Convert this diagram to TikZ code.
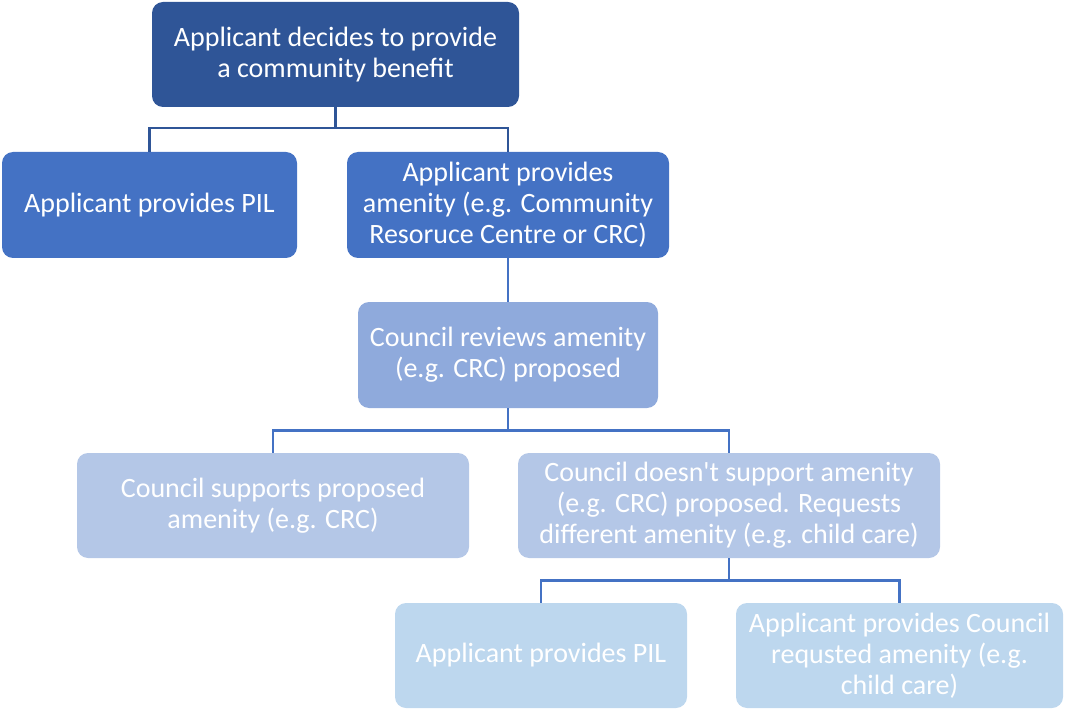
\documentclass[tikz,border=0pt]{standalone}
\usepackage{fontspec}
\setmainfont{Carlito}[Ligatures=TeXOff]
\definecolor{c1}{HTML}{2F5597}
\definecolor{c2}{HTML}{4472C4}
\definecolor{c3}{HTML}{8FAADC}
\definecolor{c4}{HTML}{B4C7E7}
\definecolor{c5}{HTML}{BDD7EE}
\definecolor{lnA}{HTML}{2F5597}
\definecolor{lnB}{HTML}{4472C4}
\tikzset{
  box/.style={rounded corners=11pt, inner sep=0pt, align=center, text=white,
    font=\fontsize{28}{31}\selectfont},
  conn/.style={line width=2.6pt},
}
\begin{document}
\begin{tikzpicture}[x=1pt,y=-1pt]
\useasboundingbox (0,0) rectangle (1065,711);
\node[box, fill=c1, minimum width=367, minimum height=105] (b1) at (335.5,54.5) {Applicant decides to provide\\a community benefit};
\node[box, fill=c2, minimum width=295, minimum height=106] (b2) at (149.5,205) {Applicant provides PIL};
\node[box, fill=c2, minimum width=322, minimum height=106] (b3) at (508,205) {Applicant provides\\amenity (e.g. Community\\Resoruce Centre or CRC)};
\node[box, fill=c3, minimum width=300, minimum height=106] (b4) at (508,355) {Council reviews amenity\\(e.g. CRC) proposed};
\node[box, fill=c4, minimum width=392, minimum height=105] (b5) at (273,505.5) {Council supports proposed\\amenity (e.g. CRC)};
\node[box, fill=c4, minimum width=422, minimum height=105] (b6) at (729,505.5) {Council doesn't support amenity\\(e.g. CRC) proposed. Requests\\different amenity (e.g. child care)};
\node[box, fill=c5, minimum width=292, minimum height=105] (b7) at (541,655.5) {Applicant provides PIL};
\node[box, fill=c5, minimum width=327, minimum height=105] (b8) at (899.5,655.5) {Applicant provides Council\\requsted amenity (e.g.\\child care)};
\draw[conn, lnA] (b1.south) -- ++(0,21) -| (b2.north);
\draw[conn, lnA] (b1.south) -- ++(0,21) -| (b3.north);
\draw[conn, lnB] (b3.south) -- (b4.north);
\draw[conn, lnB] (b4.south) -- ++(0,22) -| (b5.north);
\draw[conn, lnB] (b4.south) -- ++(0,22) -| (b6.north);
\draw[conn, lnB] (b6.south) -- ++(0,22) -| (b7.north);
\draw[conn, lnB] (b6.south) -- ++(0,22) -| (b8.north);
\end{tikzpicture}
\end{document}
